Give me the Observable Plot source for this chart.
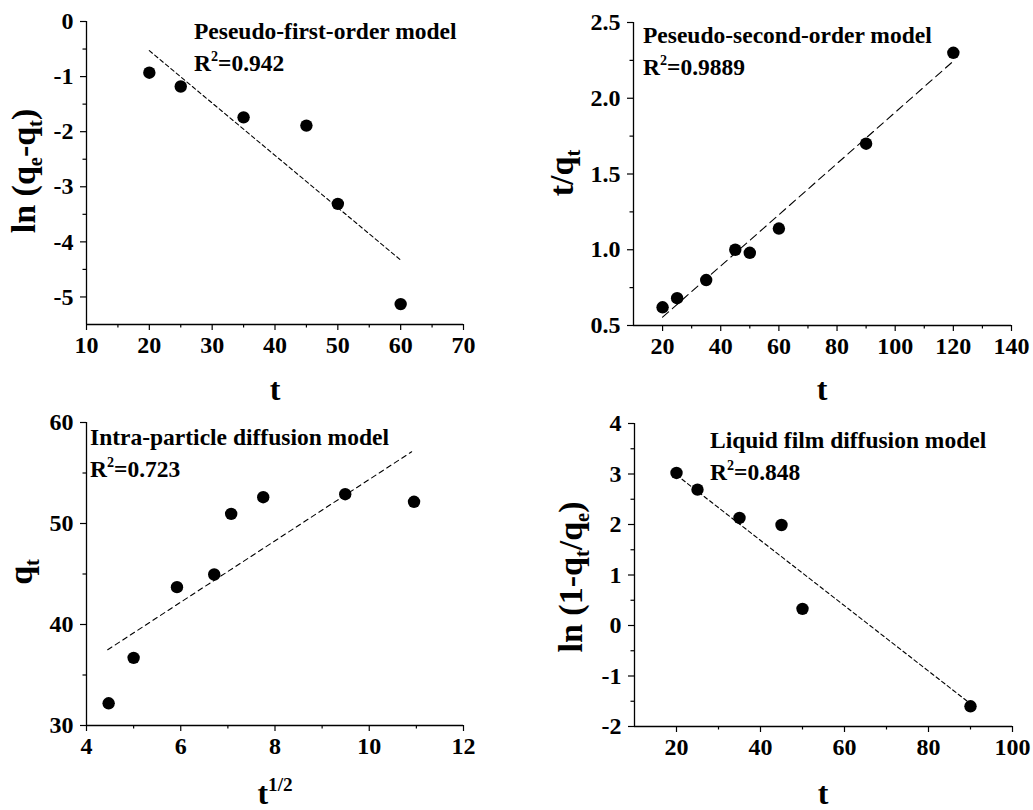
<!DOCTYPE html>
<html>
<head>
<meta charset="utf-8">
<script src="https://cdn.jsdelivr.net/npm/d3@7"></script>
<script src="https://cdn.jsdelivr.net/npm/@observablehq/plot@0.6"></script>
<style>
  body { margin: 0; background: #fff; }
  #wrap { position: relative; width: 1033px; height: 810px; overflow: hidden; background: #fff; }
  .panel { position: absolute; }
  #wrap svg text {
    font-family: "Liberation Serif", "Times New Roman", Times, serif !important;
    font-weight: bold !important;
    fill: black;
  }
  #wrap svg g[aria-label$="tick label"] text,
  #wrap svg g[aria-label$="tick label"] {
    font-size: 24px !important;
    font-variant: normal !important;
  }
</style>
</head>
<body>
<div id="wrap"></div>
<script>
const FONT = '"Liberation Serif","Times New Roman",Times,serif';

// ---------- Panel A: pseudo-first-order ----------
const tA = [20, 25, 35, 45, 50, 60];
const lnA = [-0.93, -1.18, -1.74, -1.89, -3.31, -5.13];
const fitA_t = [20, 60];
const fitA_y = [-0.53, -4.33];
const xTicksA = [10, 20, 30, 40, 50, 60, 70];
const xMinorA = [15, 25, 35, 45, 55, 65];
const yTicksA = [0, -1, -2, -3, -4, -5];
const yMinorA = [-0.5, -1.5, -2.5, -3.5, -4.5];

// ---------- Panel B: pseudo-second-order ----------
const tB = [20, 25, 35, 45, 50, 60, 90, 120];
const tqB = [0.62, 0.68, 0.80, 1.00, 0.98, 1.14, 1.70, 2.30];
const fitB_t = [20, 120];
const fitB_y = [0.555, 2.245];
const xTicksB = [20, 40, 60, 80, 100, 120, 140];
const xMinorB = [30, 50, 70, 90, 110, 130];
const yTicksB = [0.5, 1.0, 1.5, 2.0, 2.5];
const yMinorB = [0.75, 1.25, 1.75, 2.25];

// ---------- Panel C: intra-particle diffusion ----------
const sqrtC = [4.47, 5.00, 5.92, 6.71, 7.07, 7.75, 9.49, 10.95];
const qC = [32.2, 36.7, 43.7, 44.95, 50.95, 52.6, 52.9, 52.15];
const fitC_x = [4.45, 10.9];
const fitC_y = [37.5, 57.1];
const xTicksC = [4, 6, 8, 10, 12];
const xMinorC = [5, 7, 9, 11];
const yTicksC = [30, 40, 50, 60];
const yMinorC = [35, 45, 55];

// ---------- Panel D: liquid film diffusion ----------
const tD = [20, 25, 35, 45, 50, 90];
const lnD = [3.02, 2.69, 2.13, 1.99, 0.33, -1.60];
const fitD_t = [20, 90];
const fitD_y = [2.98, -1.55];
const xTicksD = [20, 40, 60, 80, 100];
const xMinorD = [30, 50, 70, 90];
const yTicksD = [-2, -1, 0, 1, 2, 3, 4];
const yMinorD = [-1.5, -0.5, 0.5, 1.5, 2.5, 3.5];

const zip = (xs, ys) => xs.map((x, i) => ({x, y: ys[i]}));

const panels = [
  {
    left: 0, top: 0, width: 516, height: 400,
    margin: {l: 86, r: 53, t: 21, b: 76},
    xDomain: [10, 70], yDomain: [-5.5, 0],
    xTicks: xTicksA, xMinor: xMinorA, yTicks: yTicksA, yMinor: yMinorA,
    yFormat: d => String(d),
    pts: zip(tA, lnA), fit: zip(fitA_t, fitA_y), dash: "4,3",
    note: {x: 194, y: 39, title: "Peseudo-first-order model", r2: "=0.942"},
    xTitle: {x: 275, y: 400, parts: [["t", ""]]},
    yTitle: {x: 35, y: 171, parts: [["ln (q", ""], ["e", "sub"], ["-q", ""], ["t", "sub"], [")", ""]]}
  },
  {
    left: 516, top: 0, width: 517, height: 400,
    margin: {l: 117, r: 22, t: 22, b: 75},
    xDomain: [10, 140], yDomain: [0.5, 2.5],
    xTicks: xTicksB, xMinor: xMinorB, yTicks: yTicksB, yMinor: yMinorB,
    yFormat: d3.format(".1f"),
    pts: zip(tB, tqB), fit: zip(fitB_t, fitB_y), dash: "8,5",
    note: {x: 643, y: 43, title: "Peseudo-second-order model", r2: "=0.9889"},
    xTitle: {x: 822, y: 400, parts: [["t", ""]]},
    yTitle: {x: 573, y: 173, parts: [["t/q", ""], ["t", "sub"]]}
  },
  {
    left: 0, top: 400, width: 516, height: 410,
    margin: {l: 86, r: 53, t: 22, b: 85},
    xDomain: [4, 12], yDomain: [30, 60],
    xTicks: xTicksC, xMinor: xMinorC, yTicks: yTicksC, yMinor: yMinorC,
    yFormat: d => String(d),
    pts: zip(sqrtC, qC), fit: zip(fitC_x, fitC_y), dash: "5,4",
    note: {x: 90, y: 445, title: "Intra-particle diffusion model", r2: "=0.723"},
    xTitle: {x: 275, y: 804, parts: [["t", ""], ["1/2", "sup"]]},
    yTitle: {x: 32, y: 572, parts: [["q", ""], ["t", "sub"]]}
  },
  {
    left: 516, top: 400, width: 517, height: 410,
    margin: {l: 118, r: 21, t: 23, b: 84},
    xDomain: [10, 100], yDomain: [-2, 4],
    xTicks: xTicksD, xMinor: xMinorD, yTicks: yTicksD, yMinor: yMinorD,
    yFormat: d => String(d),
    pts: zip(tD, lnD), fit: zip(fitD_t, fitD_y), dash: "4,3",
    note: {x: 710, y: 448, title: "Liquid film diffusion model", r2: "=0.848"},
    xTitle: {x: 823, y: 804, parts: [["t", ""]]},
    yTitle: {x: 582, y: 577, parts: [["ln (1-q", ""], ["t", "sub"], ["/q", ""], ["e", "sub"], [")", ""]]}
  }
];

function richText(svg, {x, y, size, rotate = 0, anchor = "start", parts}) {
  const t = d3.select(svg).append("text")
    .attr("transform", `translate(${x},${y}) rotate(${rotate})`)
    .attr("text-anchor", anchor)
    .attr("font-family", FONT)
    .attr("font-weight", "bold")
    .attr("font-size", size)
    .attr("fill", "black");
  let shift = 0;
  for (const [s, kind] of parts) {
    const target = kind === "sub" ? size * 0.22 : kind === "sup" ? -size * 0.42 : 0;
    t.append("tspan")
      .attr("dy", target - shift)
      .attr("font-size", kind ? size * 0.6 : size)
      .text(s);
    shift = target;
  }
  return t;
}

const wrap = document.getElementById("wrap");

for (const p of panels) {
  const svg = Plot.plot({
    width: p.width,
    height: p.height,
    marginLeft: p.margin.l,
    marginRight: p.margin.r,
    marginTop: p.margin.t,
    marginBottom: p.margin.b,
    style: {fontFamily: FONT, fontWeight: "bold", fontSize: "24px", color: "black", background: "none", overflow: "visible"},
    x: {domain: p.xDomain, label: null},
    y: {domain: p.yDomain, label: null},
    marks: [
      Plot.axisX(p.xTicks, {tickSize: 6, tickPadding: 5, tickFormat: d => String(d), fontSize: 24, label: null, strokeWidth: 1.2}),
      Plot.axisX(p.xMinor, {tickSize: 3.5, text: null, label: null, strokeWidth: 1.2}),
      Plot.axisY(p.yTicks, {tickSize: 6, tickPadding: 7, tickFormat: p.yFormat, fontSize: 24, label: null, strokeWidth: 1.2}),
      Plot.axisY(p.yMinor, {tickSize: 3.5, text: null, label: null, strokeWidth: 1.2}),
      Plot.ruleX([p.xDomain[0]], {stroke: "black", strokeWidth: 1.3}),
      Plot.ruleY([p.yDomain[0]], {stroke: "black", strokeWidth: 1.3}),
      Plot.line(p.fit, {x: "x", y: "y", stroke: "black", strokeWidth: 1.1, strokeDasharray: p.dash}),
      Plot.dot(p.pts, {x: "x", y: "y", r: 6.2, fill: "black", stroke: "none"})
    ]
  });
  svg.style.overflow = "visible";
  const div = document.createElement("div");
  div.className = "panel";
  div.style.left = p.left + "px";
  div.style.top = p.top + "px";
  div.appendChild(svg);
  wrap.appendChild(div);

  const lx = v => v - p.left, ly = v => v - p.top;
  richText(svg, {x: lx(p.note.x), y: ly(p.note.y), size: 23.5, parts: [[p.note.title, ""]]});
  richText(svg, {x: lx(p.note.x), y: ly(p.note.y + 32), size: 23.5, parts: [["R", ""], ["2", "sup"], [p.note.r2, ""]]});
  richText(svg, {x: lx(p.xTitle.x), y: ly(p.xTitle.y), size: 32, anchor: "middle", parts: p.xTitle.parts});
  richText(svg, {x: lx(p.yTitle.x), y: ly(p.yTitle.y), size: 34, rotate: -90, anchor: "middle", parts: p.yTitle.parts});
}
</script>
</body>
</html>
